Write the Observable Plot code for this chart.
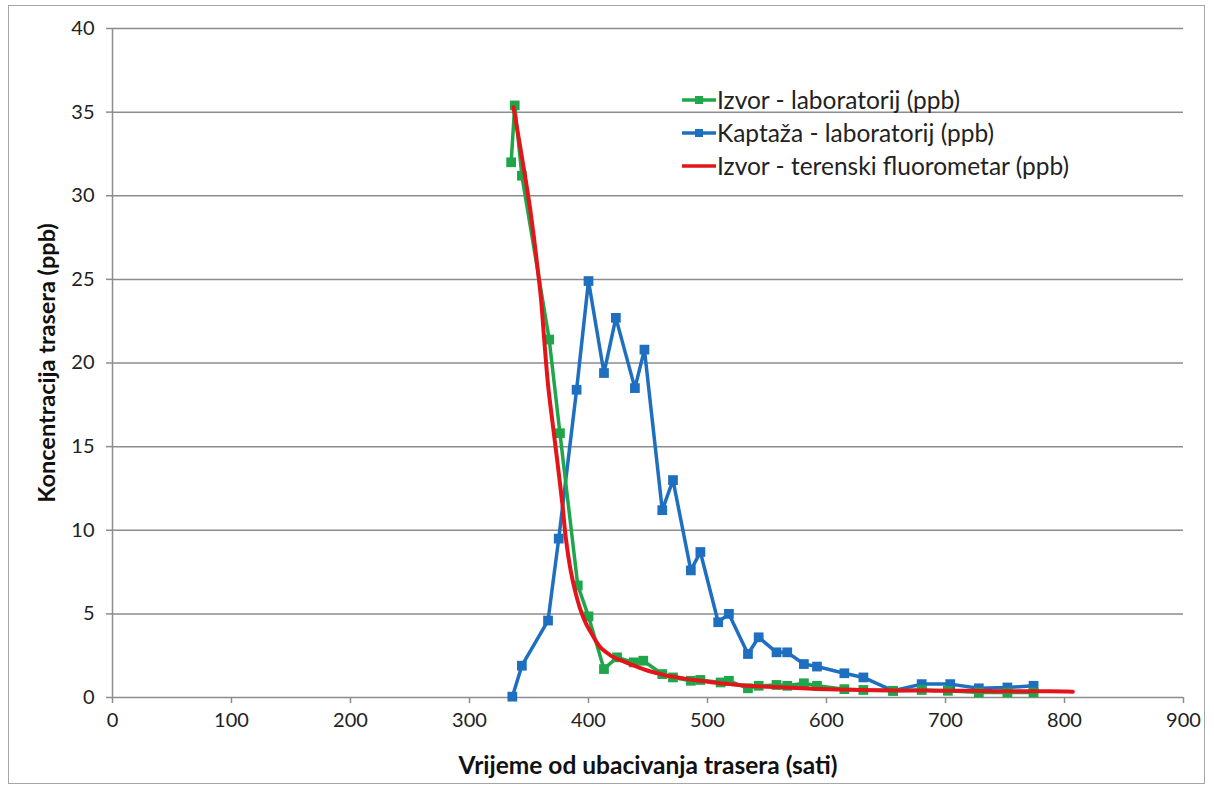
<!DOCTYPE html>
<html>
<head>
<meta charset="utf-8">
<script src="https://cdn.jsdelivr.net/npm/d3@7"></script>
<script src="https://cdn.jsdelivr.net/npm/@observablehq/plot@0.6"></script>
<style>
  html, body { margin: 0; padding: 0; background: #fff; }
  #wrap { position: relative; width: 1214px; height: 791px; }
  #frame { position: absolute; left: 8px; top: 5px; width: 1197px; height: 779px; border: 1.5px solid #a6a6a6; box-sizing: border-box; pointer-events: none; }
</style>
</head>
<body>
<div id="wrap"><div id="frame"></div></div>
<script>
// Izvor - laboratorij (ppb)
const izvorLabX = [335, 338, 344, 367, 376, 391, 400, 413, 424, 438, 446, 462, 471, 486, 494, 511, 518, 534, 543, 558, 567, 581, 592, 615, 631, 656, 680, 702, 728, 752, 774];
const izvorLabY = [32.0, 35.4, 31.2, 21.4, 15.8, 6.7, 4.85, 1.7, 2.4, 2.1, 2.2, 1.4, 1.2, 1.0, 1.05, 0.9, 1.0, 0.55, 0.7, 0.75, 0.7, 0.85, 0.7, 0.5, 0.45, 0.4, 0.45, 0.4, 0.3, 0.3, 0.3];

// Kaptaža - laboratorij (ppb)
const kaptazaX = [336, 344, 366, 375, 390, 400, 413, 423, 439, 447, 462, 471, 486, 494, 509, 518, 534, 543, 558, 567, 581, 592, 615, 631, 656, 680, 704, 728, 752, 774];
const kaptazaY = [0.05, 1.9, 4.6, 9.5, 18.4, 24.9, 19.4, 22.7, 18.5, 20.8, 11.2, 13.0, 7.6, 8.7, 4.5, 5.0, 2.6, 3.6, 2.7, 2.7, 2.0, 1.85, 1.45, 1.2, 0.4, 0.8, 0.8, 0.55, 0.6, 0.7];

// Izvor - terenski fluorometar (ppb)
const fluorX = [337, 341, 345, 348, 351, 354, 357, 360, 363, 366, 370, 374, 378, 381, 385, 389, 393, 398, 402, 406, 410, 415, 421, 428, 435, 442, 450, 458, 466, 475, 483, 494, 505, 519, 535, 550, 565, 580, 600, 620, 640, 660, 680, 700, 720, 740, 760, 780, 800, 807];
const fluorY = [35.3, 33.6, 31.9, 30.6, 29.2, 27.6, 25.8, 23.9, 21.2, 18.7, 16.3, 14.0, 11.6, 9.5, 7.6, 6.3, 5.3, 4.4, 3.9, 3.4, 3.0, 2.7, 2.4, 2.2, 2.0, 1.8, 1.6, 1.45, 1.3, 1.2, 1.1, 1.0, 0.9, 0.8, 0.7, 0.65, 0.6, 0.55, 0.5, 0.46, 0.44, 0.42, 0.42, 0.4, 0.4, 0.38, 0.38, 0.37, 0.36, 0.35];

const xTicks = [0, 100, 200, 300, 400, 500, 600, 700, 800, 900];
const yTicks = [0, 5, 10, 15, 20, 25, 30, 35, 40];

const seriesNames = ["Izvor - laboratorij (ppb)", "Kaptaža - laboratorij (ppb)", "Izvor - terenski fluorometar (ppb)"];
const seriesColors = ["#1fa64a", "#1f6fc0", "#e4141b"];

const izvorLab = izvorLabX.map((x, i) => ({x, y: izvorLabY[i]}));
const kaptaza = kaptazaX.map((x, i) => ({x, y: kaptazaY[i]}));
const fluor = fluorX.map((x, i) => ({x, y: fluorY[i]}));

const font = "Lato, 'Open Sans', sans-serif";

const chart = Plot.plot({
  width: 1214,
  height: 791,
  marginLeft: 112,
  marginRight: 31,
  marginTop: 28,
  marginBottom: 94,
  style: {fontFamily: font, fontSize: "20px", color: "#222", background: "transparent", overflow: "visible"},
  x: {domain: [0, 900]},
  y: {domain: [0, 40]},
  marks: [
    Plot.ruleY(yTicks.filter(d => d > 0), {stroke: "#8c8c8c", strokeWidth: 1.5}),
    Plot.ruleX([0], {stroke: "#8c8c8c", strokeWidth: 1.5}),
    Plot.ruleY([0], {stroke: "#8c8c8c", strokeWidth: 1.5}),
    Plot.axisX({ticks: xTicks, tickSize: 6, tickPadding: 9, stroke: "#8c8c8c", strokeWidth: 1.5, fill: "#222", fontSize: 20,
      label: "Vrijeme od ubacivanja trasera (sati)", labelAnchor: "center", labelArrow: "none", labelOffset: 76}),
    Plot.axisY({ticks: yTicks, tickSize: 6, tickPadding: 12, stroke: "#8c8c8c", strokeWidth: 1.5, fill: "#222", fontSize: 20,
      label: "Koncentracija trasera (ppb)", labelAnchor: "center", labelArrow: "none", labelOffset: 74}),
    Plot.line(kaptaza, {x: "x", y: "y", stroke: seriesColors[1], strokeWidth: 3.5}),
    Plot.dot(kaptaza, {x: "x", y: "y", symbol: "square", r: 5.5, fill: seriesColors[1], stroke: "none"}),
    Plot.line(izvorLab, {x: "x", y: "y", stroke: seriesColors[0], strokeWidth: 3.5}),
    Plot.dot(izvorLab, {x: "x", y: "y", symbol: "square", r: 5.5, fill: seriesColors[0], stroke: "none"}),
    Plot.line(fluor, {x: "x", y: "y", stroke: seriesColors[2], strokeWidth: 4, curve: "catmull-rom"})
  ]
});

// Bold axis titles
chart.querySelectorAll("g[aria-label='x-axis label'] text").forEach(t => {
  t.setAttribute("font-weight", "bold");
  t.setAttribute("font-size", "24.5");
  t.setAttribute("fill", "#111");
});
chart.querySelectorAll("g[aria-label='y-axis label'] text").forEach(t => {
  t.setAttribute("font-weight", "bold");
  t.setAttribute("font-size", "23.5");
  t.setAttribute("fill", "#111");
});

// Legend inside the plot area
const svgNS = "http://www.w3.org/2000/svg";
const lg = document.createElementNS(svgNS, "g");
lg.setAttribute("font-family", font);
lg.setAttribute("font-size", "24.5");
lg.setAttribute("text-anchor", "start");
seriesNames.forEach((name, i) => {
  const y = 100 + i * 33;
  const line = document.createElementNS(svgNS, "line");
  line.setAttribute("x1", 682); line.setAttribute("x2", 716);
  line.setAttribute("y1", y); line.setAttribute("y2", y);
  line.setAttribute("stroke", seriesColors[i]); line.setAttribute("stroke-width", 3.5);
  lg.appendChild(line);
  if (i < 2) {
    const r = document.createElementNS(svgNS, "rect");
    r.setAttribute("x", 695); r.setAttribute("y", y - 4);
    r.setAttribute("width", 8); r.setAttribute("height", 8);
    r.setAttribute("fill", seriesColors[i]);
    lg.appendChild(r);
  }
  const t = document.createElementNS(svgNS, "text");
  t.setAttribute("x", 717); t.setAttribute("y", y);
  t.setAttribute("dy", "0.35em");
  t.setAttribute("text-anchor", "start");
  t.setAttribute("fill", "#222");
  t.textContent = name;
  lg.appendChild(t);
});
chart.appendChild(lg);

const wrap = document.getElementById("wrap");
chart.style.position = "absolute";
chart.style.left = "0";
chart.style.top = "0";
wrap.insertBefore(chart, wrap.firstChild);
</script>
</body>
</html>
